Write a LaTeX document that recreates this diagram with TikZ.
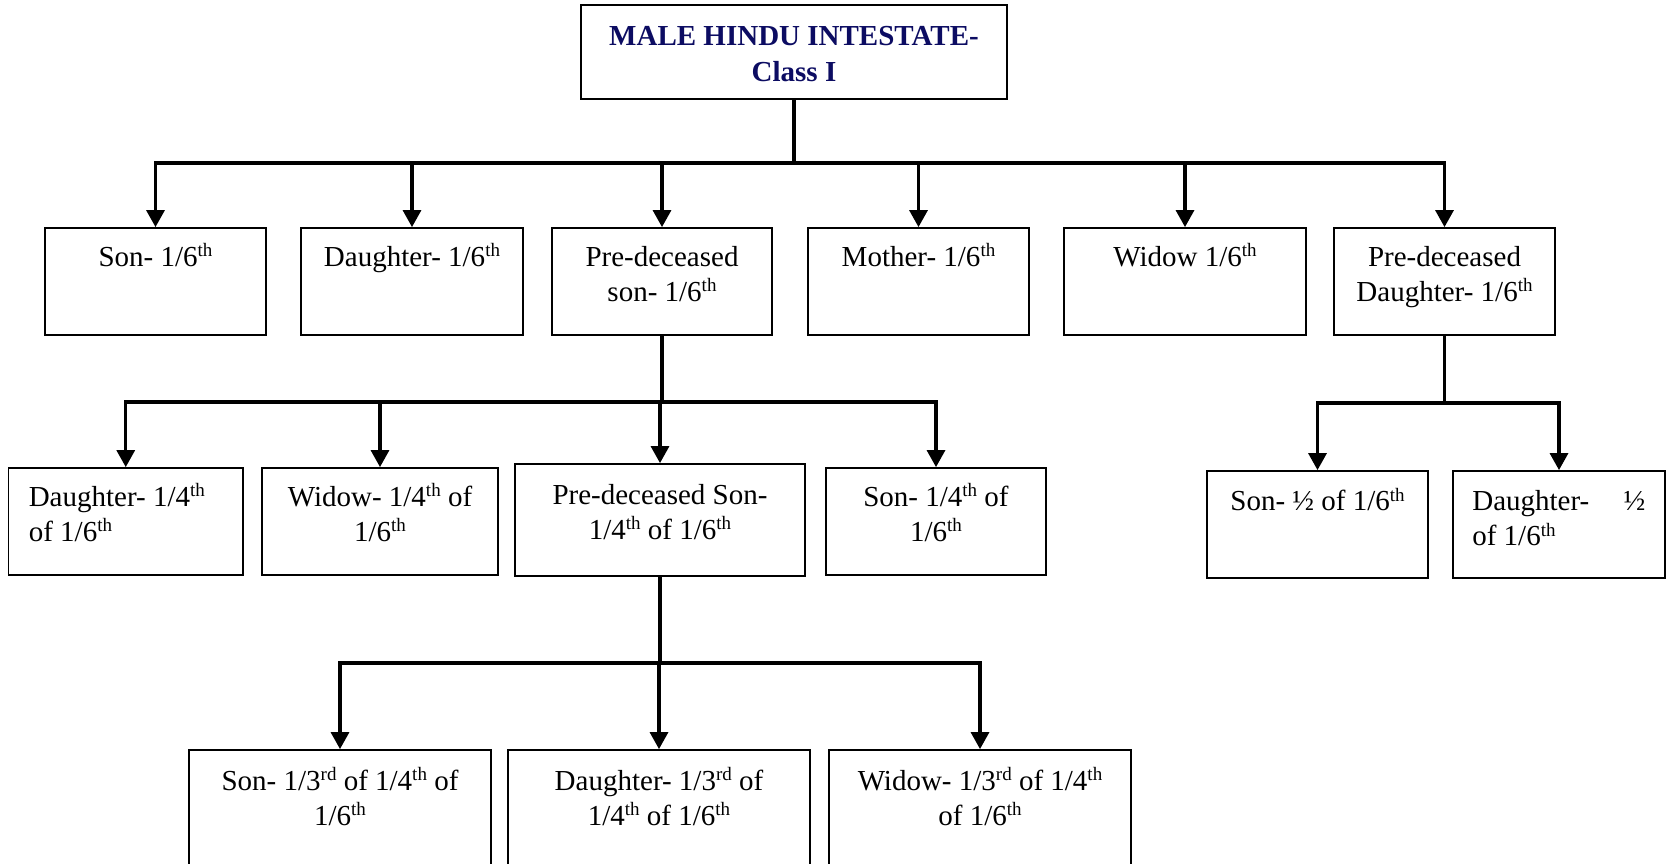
\documentclass[tikz,border=0pt]{standalone}
\usepackage{fontspec}
\setmainfont{Liberation Serif}
\usetikzlibrary{arrows.meta}
\definecolor{navytxt}{RGB}{12,12,98}
\newcommand{\sx}[1]{\raisebox{0.33em}{\fontsize{19}{19}\selectfont #1}}
\begin{document}
\begin{tikzpicture}[x=1pt,y=-1pt,
  box/.style={draw=black, line width=1.8pt, rectangle, inner sep=0pt},
  txt/.style={anchor=north, inner sep=0pt, align=center, font=\fontsize{29}{35}\selectfont},
  txtl/.style={anchor=north west, inner sep=0pt, align=left, font=\fontsize{29}{35}\selectfont},
  conn/.style={line width=3.2pt},
  arr/.style={conn, -{Triangle[length=17pt,width=18pt]}}]
\useasboundingbox (0,0) rectangle (1669,863);
\clip (0,0) rectangle (1669,863);

% top
\node[box, minimum width=426pt, minimum height=94pt] (top) at (794,52) {};
\node[txt, font=\fontsize{29}{36}\selectfont\bfseries, text=navytxt] (ttop) at ([yshift=-15.8pt]top.north) {\strut MALE HINDU INTESTATE-\\Class I};

% row 1
\node[box, minimum width=221pt, minimum height=107pt] (son1) at (155.5,281.5) {};
\node[box, minimum width=222pt, minimum height=107pt] (dau1) at (412,281.5) {};
\node[box, minimum width=220pt, minimum height=107pt] (pds1) at (662,281.5) {};
\node[box, minimum width=221pt, minimum height=107pt] (mot1) at (918.5,281.5) {};
\node[box, minimum width=242pt, minimum height=107pt] (wid1) at (1185,281.5) {};
\node[box, minimum width=221pt, minimum height=107pt] (pdd1) at (1444.5,281.5) {};

\node[txt] (tson1) at ([yshift=-14.5pt]son1.north) {\strut Son- 1/6\sx{th}};
\node[txt] (tdau1) at ([yshift=-14.5pt]dau1.north) {\strut Daughter- 1/6\sx{th}};
\node[txt] (tpds1) at ([yshift=-14.5pt]pds1.north) {\strut Pre-deceased\\son- 1/6\sx{th}};
\node[txt] (tmot1) at ([yshift=-14.5pt]mot1.north) {\strut Mother- 1/6\sx{th}};
\node[txt] (twid1) at ([yshift=-14.5pt]wid1.north) {\strut Widow 1/6\sx{th}};
\node[txt] (tpdd1) at ([yshift=-14.5pt]pdd1.north) {\strut Pre-deceased\\Daughter- 1/6\sx{th}};

\coordinate (b1) at (794,163);
\draw[conn] (top.south) -- (b1);
\foreach \n in {son1,dau1,pds1,mot1,wid1,pdd1} \draw[arr] (b1) -| (\n.north);

% row 2 (left)
\node[box, minimum width=234.5pt, minimum height=107pt] (dau2) at (125.75,521.5) {};
\node[box, minimum width=236pt, minimum height=107pt] (wid2) at (380,521.5) {};
\node[box, minimum width=290pt, minimum height=112pt] (pds2) at (660,520) {};
\node[box, minimum width=220pt, minimum height=107pt] (son2) at (936,521.5) {};

\node[txtl] (tdau2) at ([xshift=21pt,yshift=-14.5pt]dau2.north west) {\strut Daughter- 1/4\sx{th}\\of 1/6\sx{th}};
\node[txt] (twid2) at ([yshift=-14.5pt]wid2.north) {\strut Widow- 1/4\sx{th} of\\1/6\sx{th}};
\node[txt] (tpds2) at ([yshift=-16.5pt]pds2.north) {\strut Pre-deceased Son-\\1/4\sx{th} of 1/6\sx{th}};
\node[txt] (tson2) at ([yshift=-14.5pt]son2.north) {\strut Son- 1/4\sx{th} of\\1/6\sx{th}};

\coordinate (b2) at (662,402);
\draw[conn, line width=4.8pt] (pds1.south) -- (b2);
\foreach \n in {dau2,wid2,pds2,son2} \draw[arr] (b2) -| (\n.north);

% row 2 (right)
\node[box, minimum width=221pt, minimum height=107pt] (son3) at (1317.5,524.5) {};
\node[box, minimum width=212pt, minimum height=107pt] (dau3) at (1559,524.5) {};

\node[txt] (tson3) at ([yshift=-16pt]son3.north) {\strut Son- ½ of 1/6\sx{th}};
\node[txtl] (tdau3) at ([xshift=20pt,yshift=-16pt]dau3.north west) {\strut\makebox[173pt][l]{Daughter-\hfill ½}\\of 1/6\sx{th}};

\coordinate (b3) at (1444.5,403);
\draw[conn] (pdd1.south) -- (b3);
\foreach \n in {son3,dau3} \draw[arr] (b3) -| (\n.north);

% row 3
\node[box, minimum width=302pt, minimum height=150pt] (son4) at (340,825) {};
\node[box, minimum width=302pt, minimum height=150pt] (dau4) at (659,825) {};
\node[box, minimum width=302pt, minimum height=150pt] (wid4) at (980,825) {};

\node[txt] (tson4) at ([yshift=-16.5pt]son4.north) {\strut Son- 1/3\sx{rd} of 1/4\sx{th} of\\1/6\sx{th}};
\node[txt] (tdau4) at ([yshift=-16.5pt]dau4.north) {\strut Daughter- 1/3\sx{rd} of\\1/4\sx{th} of 1/6\sx{th}};
\node[txt] (twid4) at ([yshift=-16.5pt]wid4.north) {\strut Widow- 1/3\sx{rd} of 1/4\sx{th}\\of 1/6\sx{th}};

\coordinate (b4) at (660,663);
\draw[conn] (pds2.south) -- (b4);
\foreach \n in {son4,dau4,wid4} \draw[arr] (b4) -| (\n.north);
\end{tikzpicture}
\end{document}
